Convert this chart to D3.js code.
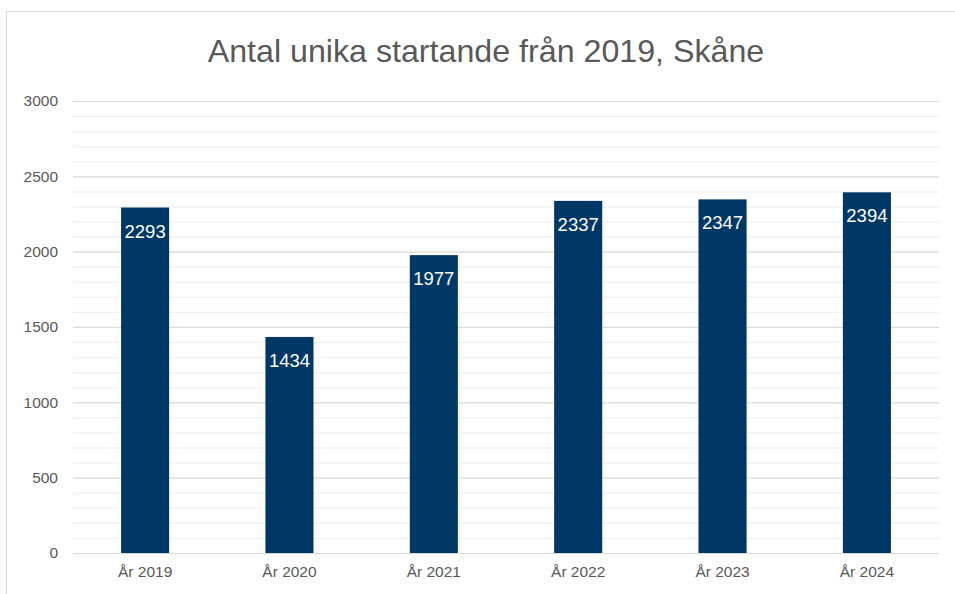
<!DOCTYPE html>
<html>
<head>
<meta charset="utf-8">
<script src="https://cdn.jsdelivr.net/npm/d3@7"></script>
<style>
  body { margin: 0; background: #fff; }
  svg { font-family: "Liberation Sans", Arial, sans-serif; }
</style>
</head>
<body>
<div id="chart"></div>
<script>
  // data
  const categories = ['År 2019', 'År 2020', 'År 2021', 'År 2022', 'År 2023', 'År 2024'];
  const values = [2293, 1434, 1977, 2337, 2347, 2394];
  const majorTicks = [0, 500, 1000, 1500, 2000, 2500, 3000];

  const width = 955, height = 594;
  const svg = d3.select('#chart').append('svg')
    .attr('width', width)
    .attr('height', height);

  // chart frame
  svg.append('rect')
    .attr('x', 6.5).attr('y', 11.5)
    .attr('width', 960).attr('height', 600)
    .attr('fill', '#fff')
    .attr('stroke', '#d9d9d9');

  svg.append('text')
    .attr('x', 486).attr('y', 62)
    .attr('text-anchor', 'middle')
    .attr('font-size', 32.2)
    .attr('fill', '#595959')
    .text('Antal unika startande från 2019, Skåne');

  const x = d3.scaleBand()
    .domain(categories)
    .range([73, 939])
    .paddingInner(0.667)
    .paddingOuter(0.333);

  const y = d3.scaleLinear()
    .domain([0, 3000])
    .range([553, 101]);

  // minor grid lines
  svg.append('g').selectAll('line')
    .data(d3.range(100, 3000, 100).filter(d => d % 500 !== 0))
    .enter().append('line')
    .attr('x1', 73).attr('x2', 939)
    .attr('y1', d => y(d) + 0.5).attr('y2', d => y(d) + 0.5)
    .attr('stroke', '#f2f2f2')
    .attr('stroke-width', 1.5);

  // major grid lines
  svg.append('g').selectAll('line')
    .data(majorTicks)
    .enter().append('line')
    .attr('x1', 73).attr('x2', 939)
    .attr('y1', d => y(d) + 0.5).attr('y2', d => y(d) + 0.5)
    .attr('stroke', '#d9d9d9')
    .attr('stroke-width', 1.2);

  // y axis labels
  const yAxis = d3.axisLeft(y).tickValues(majorTicks).tickFormat(d3.format('d')).tickSize(0).tickPadding(0);
  const gy = svg.append('g')
    .attr('transform', 'translate(58,0)')
    .call(yAxis);
  gy.select('.domain').remove();
  gy.selectAll('text')
    .attr('font-size', 15.5)
    .attr('fill', '#595959')
    .attr('font-family', '"Liberation Sans", Arial, sans-serif');

  // bars
  svg.append('g').selectAll('rect')
    .data(values)
    .enter().append('rect')
    .attr('x', (d, i) => x(categories[i]))
    .attr('y', d => y(d))
    .attr('width', x.bandwidth())
    .attr('height', d => y(0) - y(d))
    .attr('fill', '#003865');

  // value labels
  svg.append('g').selectAll('text')
    .data(values)
    .enter().append('text')
    .attr('x', (d, i) => x(categories[i]) + x.bandwidth() / 2)
    .attr('y', d => y(d) + 30)
    .attr('text-anchor', 'middle')
    .attr('font-size', 18.5)
    .attr('fill', '#fff')
    .text(d => d);

  // x axis labels
  const xAxis = d3.axisBottom(x).tickSize(0).tickPadding(0);
  const gx = svg.append('g')
    .attr('transform', 'translate(0,566)')
    .call(xAxis);
  gx.select('.domain').remove();
  gx.selectAll('text')
    .attr('font-size', 15.5)
    .attr('fill', '#595959')
    .attr('font-family', '"Liberation Sans", Arial, sans-serif');
</script>
</body>
</html>
